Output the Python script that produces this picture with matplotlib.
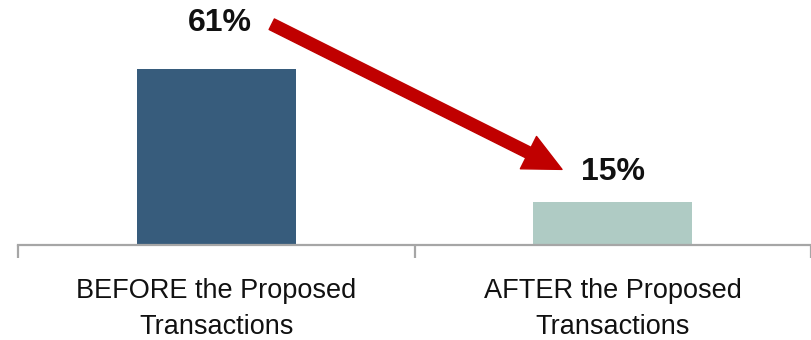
import matplotlib.pyplot as plt
import numpy as np

categories = ["BEFORE the Proposed\nTransactions", "AFTER the Proposed\nTransactions"]
values = [61, 15]
labels = ["61%", "15%"]
colors = ["#375C7C", "#AFCBC4"]

plt.rcParams['font.family'] = ['Liberation Sans', 'DejaVu Sans']

fig = plt.figure(figsize=(8.11, 3.40), dpi=100)
ax = fig.add_axes([18 / 811, 1 - 245 / 340, 793 / 811, 245 / 340])

x = np.arange(len(values))
ax.bar(x, values, width=0.4, color=colors)
ax.set_xlim(-0.5, 1.5)
ax.set_ylim(0, 84.9)

for s in ['top', 'right', 'left']:
    ax.spines[s].set_visible(False)
ax.spines['bottom'].set_color('#A6A6A6')
ax.spines['bottom'].set_linewidth(1.6)
ax.set_yticks([])
ax.set_xticks(x)
ax.set_xticklabels(categories, fontsize=19.5, color='#111111', linespacing=1.5)
ax.tick_params(axis='x', which='major', length=0, pad=23.5)
ax.set_xticks([-0.5, 0.5, 1.5], minor=True)
ax.tick_params(axis='x', which='minor', length=9, width=1.6, color='#A6A6A6')

# value labels
ax.text(x[0] + 0.01, values[0] + 16.0, labels[0], ha='center', va='center',
        fontsize=23, fontweight='bold', color='#111111')
ax.text(x[1], values[1] + 10.3, labels[1], ha='center', va='center',
        fontsize=23, fontweight='bold', color='#111111')

# arrow from first label toward second
ax.annotate('', xy=(x[1] - 0.128, values[1] + 11.2), xytext=(x[0] + 0.14, values[0] + 15.5),
            arrowprops=dict(arrowstyle='simple,head_length=2.7,head_width=2.6,tail_width=0.85',
                            mutation_scale=10, color='#C00000', shrinkA=0, shrinkB=0))

fig.savefig('out.png', dpi=100)
